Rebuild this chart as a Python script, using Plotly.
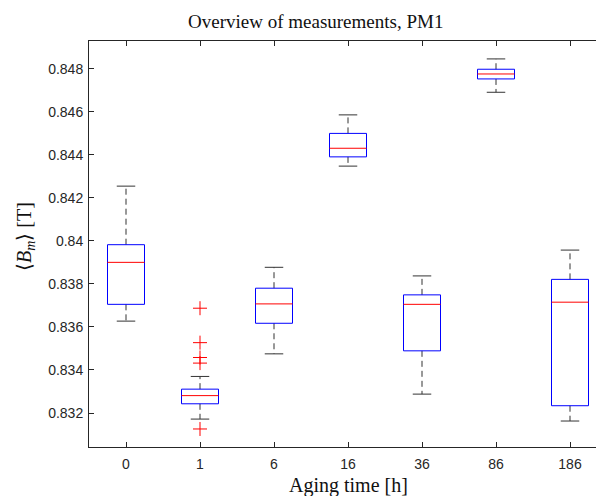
import plotly.graph_objects as go

# ---- data ----
categories = ["0", "1", "6", "16", "36", "86", "186"]
upper_whisker = [0.84254, 0.83370, 0.83877, 0.84585, 0.83837, 0.84845, 0.83957]
q3 = [0.83982, 0.83311, 0.83780, 0.84499, 0.83749, 0.84797, 0.83821]
median = [0.83900, 0.83281, 0.83707, 0.84430, 0.83705, 0.84775, 0.83715]
q1 = [0.83705, 0.83243, 0.83617, 0.84390, 0.83489, 0.84752, 0.83234]
lower_whisker = [0.83627, 0.83172, 0.83475, 0.84347, 0.83288, 0.84690, 0.83163]
outlier_category = ["1", "1", "1", "1", "1"]
outlier_values = [0.83687, 0.83527, 0.83458, 0.83432, 0.83126]
y_tick_values = [0.832, 0.834, 0.836, 0.838, 0.840, 0.842, 0.844, 0.846, 0.848]
y_tick_labels = ["0.832", "0.834", "0.836", "0.838", "0.84", "0.842", "0.844", "0.846", "0.848"]

BOX_HALF = 0.25
CAP_HALF = 0.125
positions = list(range(1, len(categories) + 1))
pos_of = dict(zip(categories, positions))

wx, wy, bx, by, mx, my, cx, cy = [], [], [], [], [], [], [], []
for p, hi, a, m, b, lo in zip(positions, upper_whisker, q3, median, q1, lower_whisker):
    wx += [p, p, None, p, p, None]
    wy += [a, hi, None, b, lo, None]
    bx += [p - BOX_HALF, p + BOX_HALF, p + BOX_HALF, p - BOX_HALF, p - BOX_HALF, None]
    by += [b, b, a, a, b, None]
    mx += [p - BOX_HALF, p + BOX_HALF, None]
    my += [m, m, None]
    cx += [p - CAP_HALF, p + CAP_HALF, None, p - CAP_HALF, p + CAP_HALF, None]
    cy += [hi, hi, None, lo, lo, None]

fig = go.Figure()
fig.add_trace(go.Scatter(x=wx, y=wy, mode="lines", line=dict(color="#333333", width=1, dash="6px,4px"),
                         hoverinfo="skip", showlegend=False))
fig.add_trace(go.Scatter(x=cx, y=cy, mode="lines", line=dict(color="#333333", width=1),
                         hoverinfo="skip", showlegend=False))
fig.add_trace(go.Scatter(x=bx, y=by, mode="lines", line=dict(color="#0000ff", width=1),
                         hoverinfo="skip", showlegend=False))
fig.add_trace(go.Scatter(x=mx, y=my, mode="lines", line=dict(color="#ff0000", width=1),
                         hoverinfo="skip", showlegend=False))
fig.add_trace(go.Scatter(x=[pos_of[c] for c in outlier_category], y=outlier_values, mode="markers",
                         marker=dict(symbol="cross-thin", size=10, line=dict(color="#ff0000", width=1)),
                         showlegend=False))

axis_color = "#262626"
plot_left, plot_w = 89, 507
unit_px = 74.0
label_font = dict(family="Liberation Serif, serif", size=20, color="#111111")

fig.update_layout(
    width=596, height=496,
    margin=dict(l=plot_left, r=596 - plot_left - plot_w, t=41, b=49),
    paper_bgcolor="white", plot_bgcolor="white",
    font=dict(family="Liberation Sans, Arial", size=14, color=axis_color),
    xaxis=dict(range=[0.5, 0.5 + plot_w / unit_px], tickmode="array", tickvals=positions,
               ticktext=categories, ticks="inside", ticklen=5, tickcolor=axis_color,
               showline=True, linecolor=axis_color, linewidth=1, mirror="ticks",
               showgrid=False, zeroline=False, ticklabelstandoff=4),
    yaxis=dict(range=[0.830423, 0.849282], tickmode="array", tickvals=y_tick_values,
               ticktext=y_tick_labels, ticks="inside", ticklen=5, tickcolor=axis_color,
               showline=True, linecolor=axis_color, linewidth=1, mirror=False,
               showgrid=False, zeroline=False, ticklabelstandoff=2),
    annotations=[
        dict(text="Overview of measurements, PM1", xref="paper", yref="paper",
             x=(315 - plot_left) / plot_w, y=1 + (41 - 22) / 406, xanchor="center", yanchor="middle",
             showarrow=False, font=dict(family="Liberation Serif, serif", size=19, color="#111111")),
        dict(text="Aging time [h]", xref="paper", yref="paper",
             x=(348 - plot_left) / plot_w, y=-(485 - 447) / 406, xanchor="center", yanchor="middle",
             showarrow=False, font=label_font),
        dict(text="⟨<i>B</i><sub><i>m</i></sub>⟩ [T]", xref="paper", yref="paper", textangle=-90,
             x=(25 - plot_left) / plot_w, y=(447 - 237) / 406, xanchor="center", yanchor="middle",
             showarrow=False, font=label_font),
    ],
)

fig.write_html("out.html")
